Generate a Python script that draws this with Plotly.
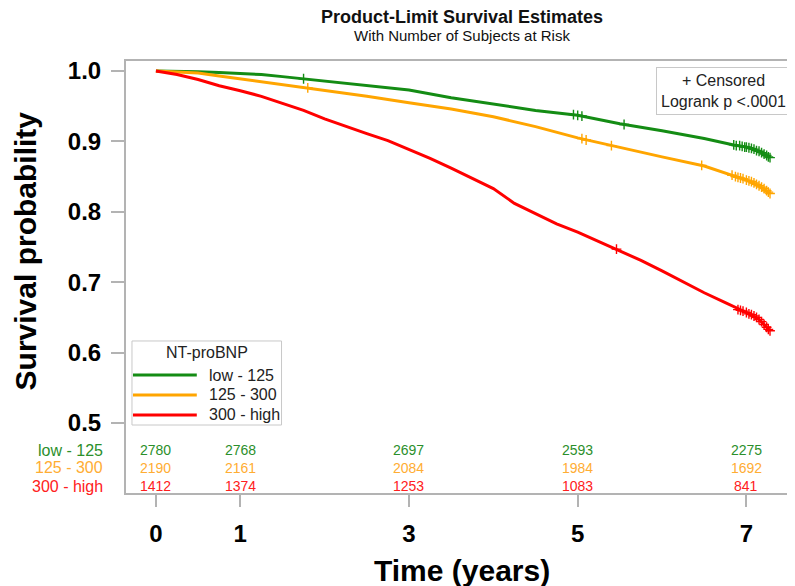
import plotly.graph_objects as go

# ---- data ----
groups = ["low - 125", "125 - 300", "300 - high"]
colors = ["#148c14", "#ffa500", "#ff0000"]
label_colors = ["#2b8f2b", "#ffad33", "#ff2020"]

t_low = [0, 0.25, 0.5, 0.75, 1.0, 1.25, 1.5, 1.75, 2.0, 2.5, 3.0, 3.5, 4.0, 4.5,
         5.0, 5.5, 6.0, 6.5, 6.85, 7.0, 7.15, 7.28]
s_low = [1.0, 1.0, 0.999, 0.998, 0.997, 0.995, 0.992, 0.989, 0.986, 0.980, 0.973,
         0.962, 0.953, 0.944, 0.937, 0.925, 0.915, 0.904, 0.895, 0.892, 0.886, 0.877]

t_mid = [0, 0.25, 0.5, 0.75, 1.0, 1.25, 1.5, 1.75, 2.0, 2.5, 3.0, 3.5, 4.0, 4.5,
         5.0, 5.5, 6.0, 6.5, 6.85, 7.0, 7.15, 7.28]
s_mid = [1.0, 0.999, 0.997, 0.993, 0.989, 0.985, 0.981, 0.977, 0.973, 0.964, 0.955,
         0.946, 0.935, 0.921, 0.905, 0.891, 0.878, 0.865, 0.851, 0.845, 0.837, 0.826]

t_high = [0, 0.25, 0.5, 0.75, 1.0, 1.25, 1.5, 1.75, 2.0, 2.25, 2.5, 2.75, 3.0, 3.25,
          3.5, 3.75, 4.0, 4.25, 4.5, 4.75, 5.0, 5.25, 5.5, 5.75, 6.0, 6.25, 6.5,
          6.75, 7.0, 7.15, 7.28]
s_high = [1.0, 0.995, 0.988, 0.979, 0.972, 0.964, 0.954, 0.944, 0.932, 0.921, 0.911,
          0.901, 0.889, 0.876, 0.862, 0.848, 0.833, 0.812, 0.797, 0.783, 0.771,
          0.758, 0.745, 0.731, 0.716, 0.700, 0.685, 0.671, 0.657, 0.647, 0.631]

cens_t_low = [1.75, 4.95, 5.0, 5.05, 5.55, 6.85, 6.88, 6.92, 6.95, 6.98, 7.0, 7.03,
              7.06, 7.09, 7.12, 7.15, 7.18, 7.21, 7.24, 7.26, 7.28]
cens_s_low = [0.989, 0.938, 0.937, 0.936, 0.924, 0.895, 0.894, 0.894, 0.893, 0.892,
              0.892, 0.891, 0.890, 0.889, 0.887, 0.886, 0.884, 0.882, 0.880, 0.878,
              0.877]
cens_t_mid = [1.8, 5.05, 5.1, 5.4, 6.47, 6.83, 6.87, 6.9, 6.93, 6.96, 7.0, 7.03,
              7.06, 7.09, 7.12, 7.15, 7.18, 7.21, 7.24, 7.26, 7.28]
cens_s_mid = [0.976, 0.904, 0.902, 0.894, 0.866, 0.852, 0.850, 0.849, 0.848, 0.847,
              0.845, 0.844, 0.843, 0.841, 0.839, 0.837, 0.835, 0.833, 0.830, 0.828,
              0.826]
cens_t_high = [5.46, 6.9, 6.93, 6.96, 7.0, 7.03, 7.06, 7.09, 7.12, 7.15, 7.18, 7.21,
               7.24, 7.26, 7.28]
cens_s_high = [0.747, 0.661, 0.660, 0.659, 0.657, 0.655, 0.654, 0.652, 0.650, 0.647,
               0.644, 0.640, 0.636, 0.633, 0.631]

risk_times = [0, 1, 3, 5, 7]
risk_low = [2780, 2768, 2697, 2593, 2275]
risk_mid = [2190, 2161, 2084, 1984, 1692]
risk_high = [1412, 1374, 1253, 1083, 841]

x_ticks = [0, 1, 3, 5, 7]
y_ticks = [0.5, 0.6, 0.7, 0.8, 0.9, 1.0]

FONT = "Arial, Liberation Sans, sans-serif"
GREY = "#b3b3b3"
BOXGREY = "#c8c8c8"

fig = go.Figure()
curves = [(t_low, s_low), (t_mid, s_mid), (t_high, s_high)]
cens = [(cens_t_low, cens_s_low), (cens_t_mid, cens_s_mid), (cens_t_high, cens_s_high)]
for i, g in enumerate(groups):
    t, s = curves[i]
    fig.add_trace(go.Scatter(x=t, y=s, mode="lines", name=g, showlegend=False,
                             line=dict(color=colors[i], width=3)))
for i, g in enumerate(groups):
    ct, cs = cens[i]
    fig.add_trace(go.Scatter(x=ct, y=cs, mode="markers", showlegend=False,
                             name=g + " censored",
                             marker=dict(symbol="cross-thin", size=7,
                                         line=dict(color=colors[i], width=1.4))))

risks = [risk_low, risk_mid, risk_high]
row_y = [0.0995, 0.0579, 0.0162]
ann = []
for i, g in enumerate(groups):
    ann.append(dict(x=-0.031, y=row_y[i], xref="paper", yref="paper", text=g,
                    showarrow=False, xanchor="right", yanchor="middle",
                    font=dict(family=FONT, size=16, color=label_colors[i])))
    for tt, n in zip(risk_times, risks[i]):
        ann.append(dict(x=tt, y=row_y[i], xref="x", yref="paper", text=str(n),
                        showarrow=False, xanchor="center", yanchor="middle",
                        font=dict(family=FONT, size=14, color=label_colors[i])))

# legend drawn as a boxed key (paper coordinates)
shapes = [dict(type="rect", xref="paper", yref="paper", x0=0.0089, x1=0.2318,
               y0=0.1574, y1=0.3519, line=dict(color=BOXGREY, width=1),
               fillcolor="white", layer="above")]
leg_rows = [0.2731, 0.2269, 0.1806]
ann.append(dict(x=0.1204, y=0.3241, xref="paper", yref="paper", text="NT-proBNP",
                showarrow=False, xanchor="center", yanchor="middle",
                font=dict(family=FONT, size=16, color="#222")))
for i, g in enumerate(groups):
    shapes.append(dict(type="line", xref="paper", yref="paper", x0=0.0104, x1=0.1055,
                       y0=leg_rows[i], y1=leg_rows[i],
                       line=dict(color=colors[i], width=3), layer="above"))
    ann.append(dict(x=0.1204, y=leg_rows[i], xref="paper", yref="paper", text=g,
                    showarrow=False, xanchor="left", yanchor="middle",
                    font=dict(family=FONT, size=16, color="#222")))

ann += [
    dict(x=0.5, y=1.102, xref="paper", yref="paper", showarrow=False,
         text="<b>Product-Limit Survival Estimates</b>", yanchor="middle",
         font=dict(family=FONT, size=18, color="#111")),
    dict(x=0.5, y=1.058, xref="paper", yref="paper", showarrow=False,
         text="With Number of Subjects at Risk", yanchor="middle",
         font=dict(family=FONT, size=15, color="#111")),
    dict(x=0.5, y=-0.180, xref="paper", yref="paper", showarrow=False,
         text="<b>Time (years)</b>", yanchor="middle",
         font=dict(family=FONT, size=30, color="#000")),
    dict(x=-0.150, y=0.560, xref="paper", yref="paper", showarrow=False,
         text="<b>Survival probability</b>", textangle=-90,
         xanchor="center", yanchor="middle",
         font=dict(family=FONT, size=30, color="#000")),
    dict(x=0.8908, y=0.9306, xref="paper", yref="paper", showarrow=False,
         text="+ Censored<br>Logrank p <.0001", align="center",
         xanchor="center", yanchor="middle", bordercolor=BOXGREY,
         borderwidth=1, borderpad=4, bgcolor="white",
         font=dict(family=FONT, size=16, color="#222")),
]

fig.update_layout(
    width=795, height=586,
    margin=dict(l=118, r=4, t=53, b=101),
    paper_bgcolor="white", plot_bgcolor="white",
    font=dict(family=FONT, color="#000"),
    showlegend=False,
    annotations=ann,
    shapes=shapes,
    xaxis=dict(range=[-0.355, 7.6], tickvals=x_ticks, ticktext=[str(v) for v in x_ticks],
               showgrid=False, zeroline=False, showline=True, mirror=True,
               linecolor=GREY, linewidth=2, ticks="outside", ticklen=12,
               tickcolor=GREY, tickwidth=1.5, ticklabelstandoff=6,
               tickfont=dict(family=FONT, size=24, color="#000", weight="bold")),
    yaxis=dict(range=[0.4006, 1.0142], tickvals=y_ticks,
               ticktext=[f"{v:.1f}" for v in y_ticks],
               showgrid=False, zeroline=False, showline=True, mirror=True,
               linecolor=GREY, linewidth=2, ticks="outside", ticklen=13,
               tickcolor=GREY, tickwidth=1.5, ticklabelstandoff=5,
               tickfont=dict(family=FONT, size=24, color="#000", weight="bold")),
)

fig.write_html("out.html")
